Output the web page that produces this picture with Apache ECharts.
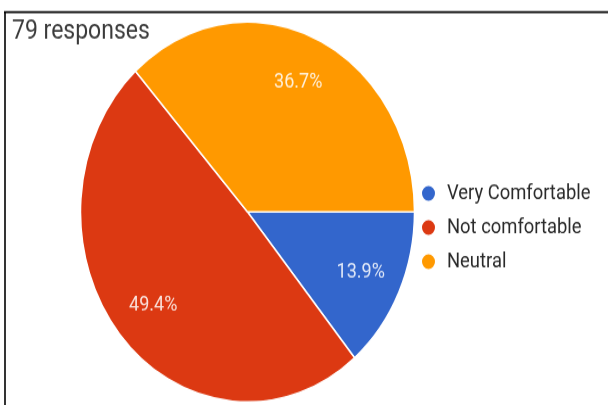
<!DOCTYPE html>
<html>
<head>
<meta charset="utf-8">
<script src="https://cdn.jsdelivr.net/npm/echarts@6/dist/echarts.min.js"></script>
<style>
  html, body { margin: 0; padding: 0; background: #ffffff; overflow: hidden; }
  #wrap { width: 608px; height: 405px; position: relative; overflow: hidden; }
  /* the chart is laid out in a shorter box and stretched vertically,
     which gives the pie its tall oval shape */
  #chart { width: 608px; height: 356px; transform: scaleY(1.1376); transform-origin: 0 0; }
</style>
</head>
<body>
<div id="wrap"><div id="chart"></div></div>
<script>
// Survey answers (79 responses)
const titleText = '79 responses';
const categories = ['Very Comfortable', 'Not comfortable', 'Neutral'];
const responses = [11, 39, 29];
const sliceColors = ['#3366cc', '#dc3912', '#ff9900'];

const pieData = categories.map((name, i) => ({ name, value: responses[i] }));

const chart = echarts.init(document.getElementById('chart'), null, { renderer: 'canvas' });

const center = [247.5, 186.3];

chart.setOption({
  animation: false,
  color: sliceColors,
  title: {
    text: titleText,
    left: 7,
    top: 12,
    textStyle: {
      fontFamily: 'Roboto',
      fontWeight: 'normal',
      fontSize: 23,
      color: '#3a3a3a'
    }
  },
  legend: {
    orient: 'vertical',
    left: 415,
    top: 156,
    icon: 'circle',
    itemWidth: 15,
    itemHeight: 15,
    itemGap: 12,
    data: categories,
    textStyle: {
      fontFamily: 'Roboto',
      fontSize: 18.4,
      color: '#2a2a2a',
      padding: [0, 0, 0, 6]
    }
  },
  graphic: [
    { type: 'line', silent: true, shape: { x1: 4, y1: 10.6, x2: 608, y2: 10.6 },
      style: { stroke: '#000', lineWidth: 1.6 } },
    { type: 'line', silent: true, shape: { x1: 5, y1: 10, x2: 5, y2: 356 },
      style: { stroke: '#000', lineWidth: 1.6 } }
  ],
  series: [
    {
      // the slices
      name: 'answers',
      type: 'pie',
      center: center,
      radius: [0, 167],
      startAngle: 0,
      clockwise: true,
      avoidLabelOverlap: false,
      label: { show: false },
      labelLine: { show: false },
      itemStyle: { borderColor: '#ffffff', borderWidth: 1.5 },
      emphasis: { scale: false },
      data: pieData
    },
    {
      // invisible twin used only to place the percentage labels further out
      name: 'labels',
      type: 'pie',
      silent: true,
      legendHoverLink: false,
      center: center,
      radius: [0, 244],
      startAngle: 0,
      clockwise: true,
      percentPrecision: 1,
      avoidLabelOverlap: false,
      itemStyle: { color: 'rgba(0,0,0,0)', borderWidth: 0 },
      labelLine: { show: false },
      label: {
        show: true,
        position: 'inside',
        formatter: '{d}%',
        fontFamily: 'Roboto',
        fontSize: 18,
        color: 'rgba(255,255,255,0.85)'
      },
      data: pieData
    }
  ]
});
</script>
</body>
</html>
